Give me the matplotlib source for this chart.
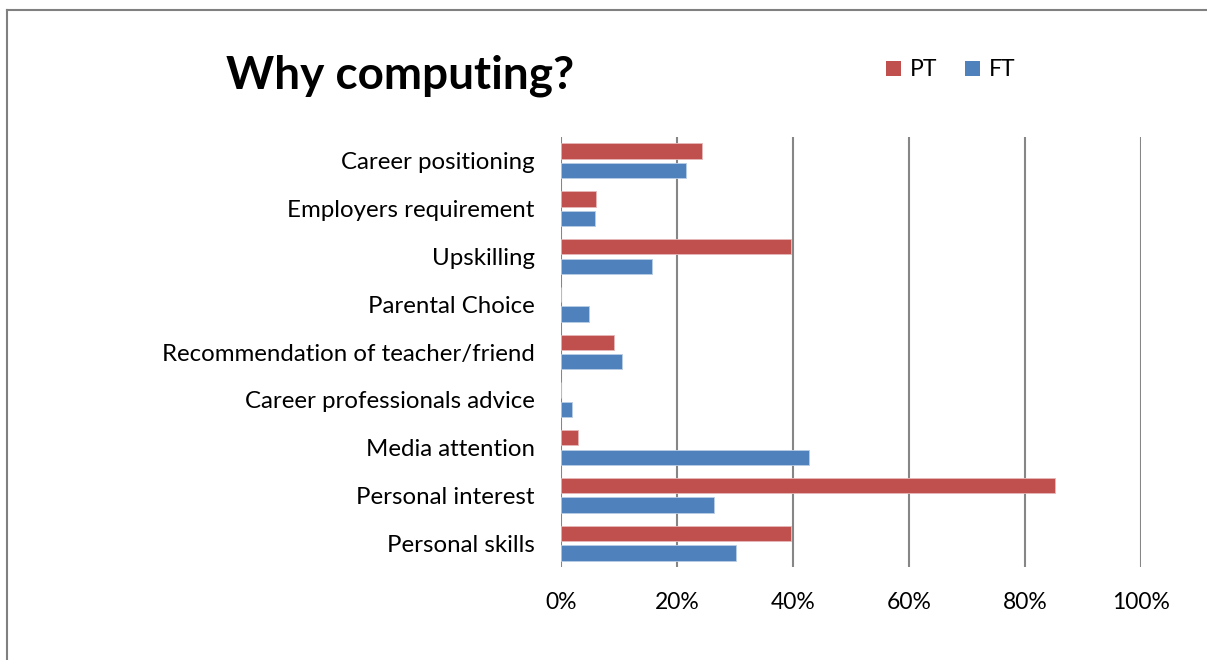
import matplotlib.pyplot as plt
from matplotlib.patches import Patch
from matplotlib.lines import Line2D
import numpy as np

# Survey answers, top to bottom as shown on the chart
categories = ["Career positioning", "Employers requirement", "Upskilling",
              "Parental Choice", "Recommendation of teacher/friend",
              "Career professionals advice", "Media attention",
              "Personal interest", "Personal skills"]
pt_values = [24.3, 6.0, 39.7, 0.0, 9.1, 0.0, 3.0, 85.1, 39.7]
ft_values = [21.5, 5.8, 15.7, 4.9, 10.6, 1.9, 42.8, 26.3, 30.1]
x_ticks = [0, 20, 40, 60, 80, 100]

red = "#C0504D"
blue = "#4F81BD"
grid_color = "#868686"

plt.rcParams['font.family'] = ['Lato', 'DejaVu Sans']

fig = plt.figure(figsize=(12.07, 6.6), dpi=100)
ax = fig.add_axes([561 / 1207, 1 - 567 / 660, 580 / 1207, 430 / 660])

y = np.arange(len(categories))[::-1]
h = 0.32
ax.barh(y + 0.204, pt_values, height=h, color=red, edgecolor="#E6B8B7", linewidth=0.6, label="PT", zorder=3)
ax.barh(y - 0.204, ft_values, height=h, color=blue, edgecolor="#B9CDE5", linewidth=0.6, label="FT", zorder=3)

ax.set_ylim(-0.5, len(categories) - 0.5)
ax.set_xlim(0, 100)
ax.set_yticks(y)
ax.set_yticklabels(categories, fontsize=17.3)
ax.set_xticks(x_ticks)
ax.set_xticklabels([f"{t}%" for t in x_ticks], fontsize=16.5)
ax.tick_params(axis="y", length=0, pad=19)
ax.tick_params(axis="x", length=0, pad=18)
ax.grid(axis="x", color=grid_color, linewidth=1.5, zorder=0)
for s in ax.spines.values():
    s.set_visible(False)

fig.text(226 / 1207, 1 - 76 / 660, "Why computing?", fontsize=33, fontweight="bold",
         ha="left", va="center")

legend_elements = [Patch(facecolor=red, label="PT"), Patch(facecolor=blue, label="FT")]
fig.legend(handles=legend_elements, loc="center left", bbox_to_anchor=(865 / 1207, 1 - 70 / 660),
           ncol=2, frameon=False, fontsize=16.5, handlelength=0.65, handleheight=0.65,
           handletextpad=0.4, columnspacing=1.2)

# chart border: only the left and top edges fall inside the image
bx, by = 7 / 1207, 1 - 9.5 / 660
fig.lines.append(Line2D([bx, bx], [0, by], transform=fig.transFigure, color="#808080", linewidth=1.5))
fig.lines.append(Line2D([bx, 1], [by, by], transform=fig.transFigure, color="#808080", linewidth=1.5))

fig.savefig("out.png", dpi=100)
